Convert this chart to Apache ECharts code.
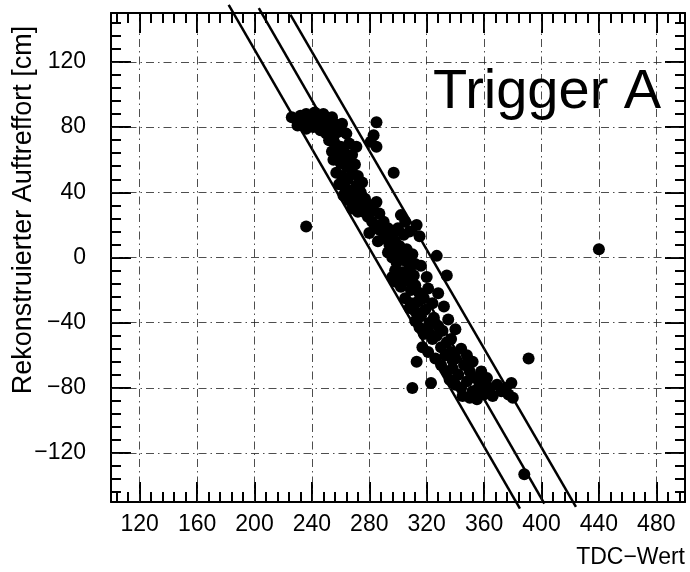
<!DOCTYPE html>
<html>
<head>
<meta charset="utf-8">
<script src="https://cdn.jsdelivr.net/npm/echarts@6/dist/echarts.min.js"></script>
<style>
  html, body { margin: 0; padding: 0; background: #fff; }
  #chart { width: 690px; height: 572px; }
</style>
</head>
<body>
<div id="chart"></div>
<script>
// Axis ranges and labelled tick values
const xRange = [100, 500];
const yRange = [-150, 150];
const xTicks = [120, 160, 200, 240, 280, 320, 360, 400, 440, 480];
const yTicks = [-120, -80, -40, 0, 40, 80, 120];

// Measured hits: [TDC value, reconstructed position in cm]
const hits = [
  [226,86],[229,85],[232,87],[234,84],[236,88],[238,82],[240,85],[242,89],[244,86],[246,83],
  [248,88],[250,84],[252,80],[254,86],[256,82],[241,80],[246,78],[236,79],[230,81],[261,82],
  [264,76],[258,77],[250,76],[255,74],
  [285,83],[283,75],[281,71],[285,68],[297,52],[236,19],[440,5],[391,-62],[388,-133],
  [252,72],[256,70],[260,68],[254,65],[258,62],[262,65],[265,60],[268,63],[260,58],[264,56],
  [270,57],[255,60],[266,70],[271,68],
  [257,52],[261,50],[265,48],[268,52],[272,50],[275,46],[259,45],[263,43],[267,41],[271,44],
  [274,40],[262,38],[266,35],
  [270,37],[273,33],[277,36],[280,32],[283,29],[276,28],[279,25],[285,34],[287,27],[272,28],
  [268,30],[282,22],
  [284,20],[287,17],[290,22],[293,18],[296,14],[290,12],[294,8],[298,10],[301,7],[286,10],
  [280,15],[300,18],[304,14],[313,20],[315,13],[306,5],[305,22],[308,16],[302,26],
  [293,3],[296,0],[299,-3],[302,1],[305,-2],[308,-6],[298,-8],[303,-9],[310,2],[312,-4],
  [327,1],[334,-11],[300,5],[316,-5],[320,-12],
  [296,-12],[299,-15],[302,-18],[306,-14],[309,-20],[312,-17],[315,-22],[305,-25],[309,-28],
  [314,-27],[318,-25],[321,-19],[324,-28],[304,-10],[311,-11],[298,-14],[328,-22],
  [312,-33],[316,-36],[319,-32],[322,-40],[325,-37],[328,-42],[315,-43],[318,-47],[321,-45],
  [324,-50],[327,-48],[331,-45],[334,-52],[330,-55],[337,-50],[312,-39],[308,-31],
  [332,-30],[335,-38],[340,-44],
  [317,-55],[321,-58],[333,-60],[337,-58],[340,-62],[344,-56],[348,-60],[352,-64],[326,-62],
  [313,-64],
  [323,-77],[310,-80],[330,-66],[334,-70],[338,-68],[342,-72],[346,-66],[350,-70],[354,-74],
  [336,-75],[340,-78],[344,-80],[348,-76],[352,-82],[356,-80],[360,-84],[358,-77],[362,-74],
  [345,-85],[350,-86],[355,-87],[360,-82],[364,-80],[366,-85],[369,-78],[372,-82],[375,-80],
  [377,-84],[380,-86],[379,-77],[338,-63],[358,-70]
];

// Straight lines of the acceptance band: [TDC value, position] end points
const bandLeft   = [[182, 155], [385, -154]];
const bandCentre = [[203, 153], [402, -151]];
const bandRight  = [[225, 149], [424, -153]];

const FONT = 'Liberation Sans';

// Minor tick positions every 8 units between the range limits
function minorTicks(range) {
  const out = [];
  const start = Math.ceil(range[0] / 8) * 8;
  for (let v = start; v <= range[1]; v += 8) {
    if (v > range[0] && v < range[1]) out.push(v);
  }
  return out;
}
const xMinor = minorTicks(xRange);
const yMinor = minorTicks(yRange);

const fmt = v => (v < 0 ? '\u2212' + Math.abs(v) : String(v));

function axis(kind, pos, range, ticks, len, withLabels, withLine) {
  return {
    type: 'value',
    position: pos,
    min: range[0],
    max: range[1],
    axisLine: { show: withLine, onZero: false, lineStyle: { color: '#000', width: 2 } },
    axisTick: {
      show: true, inside: true, length: len,
      customValues: ticks,
      lineStyle: { color: '#000', width: 2 }
    },
    axisLabel: withLabels ? {
      show: true,
      customValues: ticks,
      formatter: fmt,
      color: '#000',
      fontFamily: FONT,
      fontSize: 23,
      margin: kind === 'x' ? 11 : 25
    } : { show: false },
    splitLine: { show: false }
  };
}

const chart = echarts.init(document.getElementById('chart'), null, { renderer: 'canvas' });

const gridLineStyle = { color: '#222', width: 1, type: [8, 4, 1.5, 4], opacity: 0.8 };

chart.setOption({
  backgroundColor: '#fff',
  animation: false,
  grid: { left: 111, right: 5, top: 13, bottom: 70, containLabel: false },
  xAxis: [
    axis('x', 'bottom', xRange, xTicks, 20, true, true),
    axis('x', 'bottom', xRange, xMinor, 10, false, false),
    axis('x', 'top', xRange, xTicks, 20, false, true),
    axis('x', 'top', xRange, xMinor, 10, false, false)
  ],
  yAxis: [
    axis('y', 'left', yRange, yTicks, 20, true, true),
    axis('y', 'left', yRange, yMinor, 10, false, false),
    axis('y', 'right', yRange, yTicks, 20, false, true),
    axis('y', 'right', yRange, yMinor, 10, false, false)
  ],
  graphic: [
    {
      type: 'text', left: 433, top: 65, z: 10,
      style: { text: 'Trigger A', font: '56px "' + FONT + '"', fill: '#000' }
    },
    {
      type: 'text', x: 24, y: 210, rotation: Math.PI / 2, z: 10,
      style: {
        text: 'Rekonstruierter Auftreffort [cm]',
        font: '27px "' + FONT + '"', fill: '#000',
        align: 'center', verticalAlign: 'middle'
      }
    },
    {
      type: 'text', x: 685, y: 558, z: 10,
      style: {
        text: 'TDC\u2212Wert',
        font: '23px "' + FONT + '"', fill: '#000',
        align: 'right', verticalAlign: 'middle'
      }
    }
  ],
  series: [
    {
      name: 'grid',
      type: 'line',
      data: [],
      z: 1,
      markLine: {
        silent: true,
        symbol: 'none',
        label: { show: false },
        lineStyle: gridLineStyle,
        data: xTicks.map(v => ({ xAxis: v })).concat(yTicks.map(v => ({ yAxis: v })))
      }
    },
    {
      name: 'bandLeft', type: 'line', data: bandLeft, clip: false, z: 3,
      symbol: 'none', lineStyle: { color: '#000', width: 2.5 }
    },
    {
      name: 'bandCentre', type: 'line', data: bandCentre, clip: false, z: 3,
      symbol: 'none', lineStyle: { color: '#000', width: 2.5 }
    },
    {
      name: 'bandRight', type: 'line', data: bandRight, clip: false, z: 3,
      symbol: 'none', lineStyle: { color: '#000', width: 2.5 }
    },
    {
      name: 'hits', type: 'scatter', data: hits, z: 5,
      symbol: 'circle', symbolSize: 12,
      itemStyle: { color: '#000', opacity: 1 }
    }
  ]
});
</script>
</body>
</html>
